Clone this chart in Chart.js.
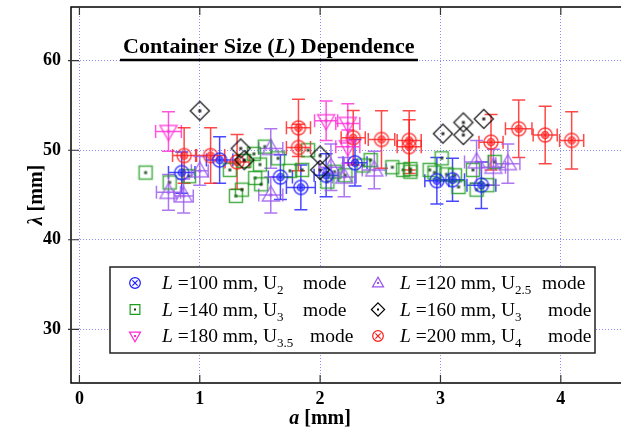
<!DOCTYPE html>
<html>
<head>
<meta charset="utf-8">
<script src="https://cdn.jsdelivr.net/npm/chart.js@4"></script>
<style>
  body { margin: 0; background: #fff; }
  #wrap { width: 626px; height: 431px; position: relative; }
</style>
</head>
<body>
<div id="wrap"><canvas id="chart"></canvas></div>
<script>
// Data (a [mm], lambda [mm], error bars)
const xTicks = [0, 1, 2, 3, 4];
const yTicks = [30, 40, 50, 60];

// L = 100 mm, U2 mode (blue)
const L100_a    = [0.85, 1.165, 1.67, 1.84, 2.05, 2.29, 2.97, 3.10, 3.34];
const L100_lam  = [47.5, 48.9, 47.0, 45.85, 47.2, 48.6, 46.6, 46.7, 46.1];
const L100_da   = [0.11, 0.11, 0.10, 0.12, 0.10, 0.10, 0.10, 0.10, 0.12];
const L100_dlam = [2.3, 2.6, 2.5, 2.5, 2.4, 2.6, 2.6, 2.4, 2.6];

// L = 120 mm, U2.5 mode (purple)
const L120_a    = [0.74, 0.866, 1.0, 1.59, 1.59, 2.09, 2.2, 2.45, 3.30, 3.44, 3.56];
const L120_lam  = [45.3, 44.9, 47.7, 50.2, 45.0, 48.1, 47.0, 47.8, 48.7, 48.1, 48.5];
const L120_da   = [0.10, 0.08, 0.07, 0.10, 0.10, 0.10, 0.10, 0.10, 0.10, 0.10, 0.10];
const L120_dlam = [2.0, 1.9, 1.6, 2.2, 2.0, 2.6, 2.2, 2.1, 2.4, 2.0, 2.2];

// L = 140 mm, U3 mode (green, no error bars)
const L140_a   = [0.55, 0.75, 0.91, 1.25, 1.30, 1.35, 1.37, 1.45, 1.46, 1.51, 1.50, 1.54,
                  1.65, 1.75, 1.85, 1.90, 2.06, 2.12, 2.21, 2.36, 2.42, 2.60, 2.69, 2.75,
                  2.75, 2.91, 3.01, 2.95, 3.05, 3.12, 3.15, 3.27, 3.45, 3.39, 3.30];
const L140_lam = [47.5, 46.4, 47.1, 47.8, 44.9, 45.6, 48.8, 49.6, 46.9, 46.2, 48.4, 50.4,
                  49.1, 47.7, 47.8, 50.0, 46.5, 47.6, 47.2, 48.3, 48.9, 48.1, 47.8, 47.9,
                  47.6, 47.8, 49.1, 47.5, 47.3, 47.2, 45.9, 47.8, 48.7, 46.1, 45.6];

// L = 160 mm, U3 mode (black, no error bars)
const L160_a   = [1.0, 1.34, 1.37, 2.0, 2.0, 3.02, 3.19, 3.19, 3.36];
const L160_lam = [54.4, 50.2, 48.9, 49.4, 47.8, 51.85, 53.1, 51.7, 53.5];

// L = 180 mm, U3.5 mode (magenta)
const L180_a    = [0.74, 2.05, 2.23, 2.23];
const L180_lam  = [52.1, 53.3, 53.0, 50.4];
const L180_da   = [0.107, 0.096, 0.10, 0.10];
const L180_dlam = [2.2, 2.2, 2.2, 1.85];

// L = 200 mm, U4 mode (red)
const L200_a    = [0.87, 1.09, 1.31, 1.82, 1.82, 2.275, 2.51, 2.74, 2.74, 3.42, 3.65, 3.87, 4.09];
const L200_lam  = [49.4, 49.4, 48.7, 52.5, 50.3, 51.4, 51.2, 51.1, 50.4, 50.9, 52.4, 51.7, 51.1];
const L200_da   = [0.096, 0.117, 0.10, 0.10, 0.10, 0.10, 0.11, 0.10, 0.10, 0.10, 0.11, 0.10, 0.10];
const L200_dlam = [3.1, 3.1, 3.05, 3.2, 2.6, 3.05, 3.2, 3.3, 3.0, 3.1, 3.2, 3.2, 3.2];

// Legend text
const legendL    = ['100', '120', '140', '160', '180', '200'];
const legendMode = ['2', '2.5', '3', '3', '3.5', '4'];

const SERIF = '"Liberation Serif", "Times New Roman", serif';
const COLORS = {
  blue: '#1a1aff', purple: '#9955ee', green: '#1c9c1c',
  black: '#000000', magenta: '#ff2ad4', red: '#ff1a1a'
};

// Marker drawing, shared by the points and the legend
function drawMarker(ctx, kind, color, cx, cy, k, small) {
  ctx.save();
  ctx.strokeStyle = color;
  ctx.fillStyle = color;
  ctx.lineWidth = small ? 1.2 : 1.5;
  ctx.beginPath();
  if (kind === 'circle') {
    ctx.arc(cx, cy, 7 * k, 0, Math.PI * 2);
    ctx.stroke();
    let d = 2.3 * k;
    if (!small) {
      ctx.beginPath();
      ctx.arc(cx, cy, 3.5 * k, 0, Math.PI * 2);
      ctx.stroke();
    } else {
      d = 2.6;
    }
    ctx.beginPath();
    ctx.moveTo(cx - d, cy - d); ctx.lineTo(cx + d, cy + d);
    ctx.moveTo(cx + d, cy - d); ctx.lineTo(cx - d, cy + d);
    ctx.stroke();
  } else {
    if (kind === 'square') {
      ctx.rect(cx - 6.5 * k, cy - 6.5 * k, 13 * k, 13 * k);
    } else if (kind === 'diamond') {
      ctx.moveTo(cx, cy - 9.5 * k); ctx.lineTo(cx + 9.5 * k, cy);
      ctx.lineTo(cx, cy + 9.5 * k); ctx.lineTo(cx - 9.5 * k, cy);
      ctx.closePath();
    } else if (kind === 'triUp') {
      ctx.moveTo(cx, cy - 9 * k); ctx.lineTo(cx + 8.5 * k, cy + 6 * k);
      ctx.lineTo(cx - 8.5 * k, cy + 6 * k); ctx.closePath();
    } else if (kind === 'triDown') {
      ctx.moveTo(cx - 8.5 * k, cy - 6 * k); ctx.lineTo(cx + 8.5 * k, cy - 6 * k);
      ctx.lineTo(cx, cy + 9 * k); ctx.closePath();
    }
    ctx.stroke();
    ctx.fillStyle = kind === 'square' ? '#0a3a0a' : color;
    const r = small ? 1 : 1.5;
    ctx.fillRect(cx - r, cy - r, 2 * r, 2 * r);
  }
  ctx.restore();
}

function markerCanvas(kind, color) {
  const c = document.createElement('canvas');
  c.width = 24; c.height = 24;
  const ctx = c.getContext('2d');
  ctx.globalAlpha = 0.8;
  drawMarker(ctx, kind, color, 12, 12, 1, false);
  return c;
}

function pts(a, lam) {
  return a.map((v, i) => ({ x: v, y: lam[i] }));
}

const seriesDefs = [
  { kind: 'diamond', color: COLORS.black,   a: L160_a, lam: L160_lam },
  { kind: 'circle',  color: COLORS.blue,    a: L100_a, lam: L100_lam, da: L100_da, dlam: L100_dlam },
  { kind: 'triDown', color: COLORS.magenta, a: L180_a, lam: L180_lam, da: L180_da, dlam: L180_dlam },
  { kind: 'circle',  color: COLORS.red,     a: L200_a, lam: L200_lam, da: L200_da, dlam: L200_dlam },
  { kind: 'triUp',   color: COLORS.purple,  a: L120_a, lam: L120_lam, da: L120_da, dlam: L120_dlam },
  { kind: 'square',  color: COLORS.green,   a: L140_a, lam: L140_lam }
];

const datasets = seriesDefs.map(s => ({
  data: pts(s.a, s.lam),
  pointStyle: markerCanvas(s.kind, s.color),
  showLine: false,
  errA: s.da, errLam: s.dlam, errColor: s.color
}));

// Error bars with caps, drawn under the markers
const errorBars = {
  id: 'errorBars',
  beforeDatasetsDraw(chart) {
    const ctx = chart.ctx, xs = chart.scales.x, ys = chart.scales.y;
    const cap = 6.5;
    chart.data.datasets.forEach(ds => {
      if (!ds.errA) return;
      ctx.save();
      ctx.strokeStyle = ds.errColor;
      ctx.globalAlpha = 0.8;
      ctx.lineWidth = 1.5;
      ds.data.forEach((p, i) => {
        const px = xs.getPixelForValue(p.x), py = ys.getPixelForValue(p.y);
        const x0 = xs.getPixelForValue(p.x - ds.errA[i]), x1 = xs.getPixelForValue(p.x + ds.errA[i]);
        const y0 = ys.getPixelForValue(p.y - ds.errLam[i]), y1 = ys.getPixelForValue(p.y + ds.errLam[i]);
        ctx.beginPath();
        ctx.moveTo(x0, py); ctx.lineTo(x1, py);
        ctx.moveTo(x0, py - cap); ctx.lineTo(x0, py + cap);
        ctx.moveTo(x1, py - cap); ctx.lineTo(x1, py + cap);
        ctx.moveTo(px, y0); ctx.lineTo(px, y1);
        ctx.moveTo(px - cap, y0); ctx.lineTo(px + cap, y0);
        ctx.moveTo(px - cap, y1); ctx.lineTo(px + cap, y1);
        ctx.stroke();
      });
      ctx.restore();
    });
  }
};

// Frame, inward ticks, axis titles, title and legend
const decorations = {
  id: 'decorations',
  afterDraw(chart) {
    const ctx = chart.ctx, area = chart.chartArea;
    const xs = chart.scales.x, ys = chart.scales.y;
    ctx.save();
    ctx.strokeStyle = '#000';
    ctx.lineWidth = 1.5;
    ctx.beginPath();
    ctx.moveTo(area.right, area.top); ctx.lineTo(area.left, area.top);
    ctx.lineTo(area.left, area.bottom); ctx.lineTo(area.right, area.bottom);
    ctx.stroke();

    ctx.strokeStyle = '#333';
    ctx.lineWidth = 1.2;
    ctx.beginPath();
    xTicks.forEach(v => {
      const px = xs.getPixelForValue(v);
      ctx.moveTo(px, area.bottom); ctx.lineTo(px, area.bottom - 8);
      ctx.moveTo(px, area.top); ctx.lineTo(px, area.top + 8);
    });
    yTicks.forEach(v => {
      const py = ys.getPixelForValue(v);
      ctx.moveTo(area.left - 3, py); ctx.lineTo(area.left + 8, py);
    });
    ctx.stroke();

    // axis titles
    ctx.fillStyle = '#000';
    ctx.textBaseline = 'alphabetic';
    ctx.font = 'bold italic 20px ' + SERIF;
    const aW = ctx.measureText('a').width;
    ctx.font = 'bold 20px ' + SERIF;
    const mmW = ctx.measureText(' [mm]').width;
    const tx = xs.getPixelForValue(2) - (aW + mmW) / 2;
    ctx.font = 'bold italic 20px ' + SERIF;
    ctx.fillText('a', tx, 424);
    ctx.font = 'bold 20px ' + SERIF;
    ctx.fillText(' [mm]', tx + aW, 424);

    ctx.save();
    ctx.translate(42, ys.getPixelForValue(45));
    ctx.rotate(-Math.PI / 2);
    ctx.font = 'bold italic 20px ' + SERIF;
    const lW = ctx.measureText('\u03bb').width;
    const start = -(lW + mmW) / 2;
    ctx.fillText('\u03bb', start, 0);
    ctx.font = 'bold 20px ' + SERIF;
    ctx.fillText(' [mm]', start + lW, 0);
    ctx.restore();

    // title with underline
    const parts = [['Container Size (', 'bold'], ['L', 'bold italic'], [') Dependence', 'bold']];
    let x = 123;
    parts.forEach(([t, f]) => {
      ctx.font = f + ' 22px ' + SERIF;
      ctx.fillText(t, x, 53);
      x += ctx.measureText(t).width;
    });
    ctx.lineWidth = 2.5;
    ctx.strokeStyle = '#000';
    ctx.beginPath();
    ctx.moveTo(120, 60); ctx.lineTo(418, 60);
    ctx.stroke();

    // legend
    const bx = 110, by = 267, bw = 485, bh = 86;
    ctx.fillStyle = '#fff';
    ctx.fillRect(bx, by, bw, bh);
    ctx.strokeStyle = '#222';
    ctx.lineWidth = 1.5;
    ctx.strokeRect(bx, by, bw, bh);

    const order = [
      { kind: 'circle',  color: COLORS.blue,    i: 0, col: 0, row: 0, k: 0.76, mode: 303 },
      { kind: 'triUp',   color: COLORS.purple,  i: 1, col: 1, row: 0, k: 0.65, mode: 542 },
      { kind: 'square',  color: COLORS.green,   i: 2, col: 0, row: 1, k: 0.75, mode: 303 },
      { kind: 'diamond', color: COLORS.black,   i: 3, col: 1, row: 1, k: 0.7,  mode: 548 },
      { kind: 'triDown', color: COLORS.magenta, i: 4, col: 0, row: 2, k: 0.65, mode: 310 },
      { kind: 'circle',  color: COLORS.red,     i: 5, col: 1, row: 2, k: 0.76, mode: 548 }
    ];
    const markX = [135, 378], textX = [162, 400];
    order.forEach(e => {
      const cy = 283 + e.row * 26.5;
      drawMarker(ctx, e.kind, e.color, markX[e.col], cy, e.k, true);
      let lx = textX[e.col];
      const base = cy + 6;
      ctx.fillStyle = '#000';
      ctx.font = 'italic 19.5px ' + SERIF;
      ctx.fillText('L', lx, base);
      lx += ctx.measureText('L').width;
      ctx.font = '19.5px ' + SERIF;
      const body = ' =' + legendL[e.i] + ' mm, U';
      ctx.fillText(body, lx, base);
      lx += ctx.measureText(body).width;
      ctx.font = '13px ' + SERIF;
      ctx.fillText(legendMode[e.i], lx, base + 5);
      lx += ctx.measureText(legendMode[e.i]).width;
      ctx.font = '19.5px ' + SERIF;
      ctx.fillText('mode', Math.max(e.mode, lx + 3), base);
    });
    ctx.restore();
  }
};

function noPad(s) {
  s.paddingTop = 0; s.paddingBottom = 0; s.paddingLeft = 0; s.paddingRight = 0;
}

new Chart(document.getElementById('chart'), {
  type: 'scatter',
  data: { datasets },
  options: {
    responsive: true,
    maintainAspectRatio: false,
    animation: false,
    layout: { padding: { top: 7, right: 0, left: 0, bottom: 0 } },
    plugins: { legend: { display: false }, tooltip: { enabled: false } },
    scales: {
      x: {
        type: 'linear', min: -0.07, max: 4.5,
        afterBuildTicks: s => { s.ticks = xTicks.map(v => ({ value: v })); },
        afterFit: s => { s.height = 48; noPad(s); },
        grid: { color: '#8c8cff', lineWidth: 1, drawTicks: false },
        border: { display: false, dash: [1, 2] },
        ticks: { color: '#000', padding: 6, font: { family: SERIF, size: 18, weight: 'bold' } }
      },
      y: {
        type: 'linear', min: 24, max: 66,
        afterBuildTicks: s => { s.ticks = yTicks.map(v => ({ value: v })); },
        afterFit: s => { s.width = 71; noPad(s); },
        grid: { color: '#8c8cff', lineWidth: 1, drawTicks: false },
        border: { display: false, dash: [1, 2] },
        ticks: { color: '#000', padding: 10, font: { family: SERIF, size: 18, weight: 'bold' } }
      }
    }
  },
  plugins: [errorBars, decorations]
});
</script>
</body>
</html>
